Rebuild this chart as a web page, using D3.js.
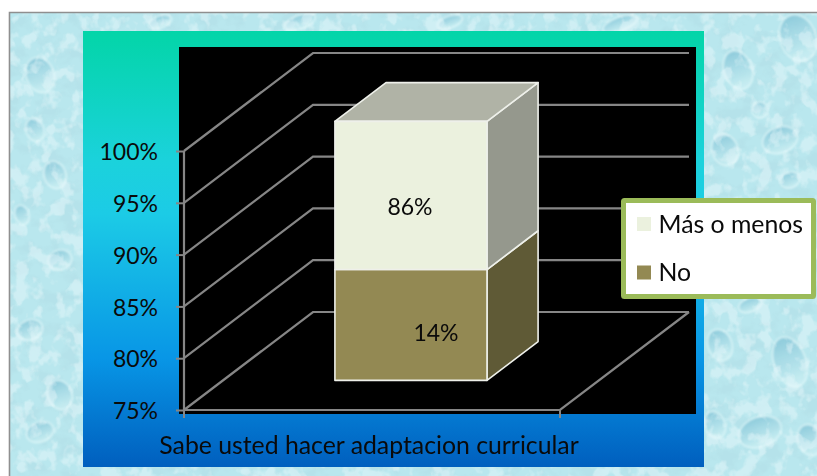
<!DOCTYPE html>
<html><head><meta charset="utf-8">
<script src="https://cdn.jsdelivr.net/npm/d3@7"></script>
<style>html,body{margin:0;padding:0;background:#fff}svg{display:block}text{font-family:Lato,"Open Sans",sans-serif;fill:#0a0a0a}</style>
</head><body><div id="c"></div>
<script>
const categories=["Sabe usted hacer adaptacion curricular"];
const tickValues=[75,80,85,90,95,100];
const seriesNames=["No","Más o menos"];
const lowerStack=[85.7];
const upperStack=[14.3];
const labelsLower=["14%"];
const labelsUpper=["86%"];
const seriesColors=["#938953","#ebf1de"];
const W=817,H=476;
const svg=d3.select("#c").append("svg").attr("width",W).attr("height",H);
const defs=svg.append("defs");

// ---- Textured page background
const mkTex=(id,freq,seed,matrix)=>{
  const f=defs.append("filter").attr("id",id).attr("x",0).attr("y",0).attr("width","100%").attr("height","100%");
  f.append("feTurbulence").attr("type","fractalNoise").attr("baseFrequency",freq).attr("numOctaves",3).attr("seed",seed).attr("result","n");
  f.append("feColorMatrix").attr("in","n").attr("type","matrix").attr("values",matrix);
};
mkTex("texDark","0.05 0.065",7,"0 0 0 0 0.45  0 0 0 0 0.74  0 0 0 0 0.80  5 0 0 0 -2.3");
mkTex("texLight","0.07 0.06",21,"0 0 0 0 0.90  0 0 0 0 0.98  0 0 0 0 0.99  0 6 0 0 -2.9");
defs.append("filter").attr("id","soft").append("feGaussianBlur").attr("stdDeviation",1.1);
const dropG=defs.append("linearGradient").attr("id","drop").attr("x1",0).attr("y1",0).attr("x2",0).attr("y2",1);
dropG.append("stop").attr("offset","0").attr("stop-color","#86c6d8").attr("stop-opacity",.85);
dropG.append("stop").attr("offset","0.65").attr("stop-color","#b4e2ea").attr("stop-opacity",.7);
dropG.append("stop").attr("offset","1").attr("stop-color","#d8f5f7").attr("stop-opacity",.6);
const bgDrops=[[40,75,14,18],[55,175,11,14],[35,130,9,12],[60,260,12,10],[30,330,13,10],[60,395,12,15],[40,432,14,10],[22,215,7,10],
[160,22,12,6],[300,22,16,7],[450,22,13,6],[620,24,18,7],[738,70,14,20],[798,38,18,24],[725,150,13,16],[780,140,18,13],[760,110,8,8],
[720,345,12,16],[790,362,16,26],[760,432,22,15],[715,425,10,14],[735,250,8,10],[790,180,10,8],[750,305,12,7],[810,440,12,16]];
svg.append("rect").attr("x",9).attr("y",12).attr("width",W-9).attr("height",H-12).attr("fill","#b9e7ee");
svg.append("rect").attr("x",9).attr("y",12).attr("width",W-9).attr("height",H-12).attr("filter","url(#texDark)").attr("opacity",.55);
svg.append("g").attr("filter","url(#soft)").selectAll("ellipse").data(bgDrops).join("ellipse")
  .attr("cx",d=>d[0]).attr("cy",d=>d[1]).attr("rx",d=>d[2]).attr("ry",d=>d[3])
  .attr("fill","url(#drop)").attr("stroke","#e2f9fa").attr("stroke-opacity",.8).attr("stroke-width",1.5)
  .attr("transform",d=>`rotate(-20 ${d[0]} ${d[1]})`);
svg.append("rect").attr("x",9).attr("y",12).attr("width",W-9).attr("height",H-12).attr("filter","url(#texLight)").attr("opacity",.38);
svg.append("path").attr("d",`M${W},12.5H9.5V${H}`).attr("fill","none").attr("stroke","#8f8f8f").attr("stroke-width",1.6);

// ---- Chart area with vertical gradient
const g=defs.append("linearGradient").attr("id","area").attr("x1",0).attr("y1",0).attr("x2",0).attr("y2",1);
[[0,"#03d5a8"],[.3,"#1bd2dc"],[.42,"#1ccbe6"],[.75,"#0896e6"],[1,"#005fbe"]].forEach(s=>g.append("stop").attr("offset",s[0]).attr("stop-color",s[1]));
svg.append("rect").attr("x",83).attr("y",31).attr("width",621).attr("height",436).attr("fill","url(#area)");
svg.append("rect").attr("x",179).attr("y",47).attr("width",517).attr("height",367).attr("fill","#000");

// ---- Scales and 3D projection
const y=d3.scaleLinear().domain([75,100]).range([410,151]);
const x=d3.scaleBand().domain(categories).range([184,560]).padding(.424);
const depthX=129,depthY=98;
const pr=(px,v,t)=>[px+depthX*t,y(v)-depthY*t];
const line=d3.line();
const grey="#868686";

// gridlines on the side wall and back wall
const grid=svg.append("g").attr("fill","none").attr("stroke",grey).attr("stroke-width",2.2);
grid.selectAll("path").data(tickValues).join("path")
  .attr("d",v=>line([pr(184,v,0),pr(184,v,1),pr(560,v,1)]));
grid.append("path").attr("d",line([pr(184,75,0),pr(560,75,0),pr(560,75,1)]));

// value axis
const axis=svg.append("g").attr("transform","translate(184,0)")
  .call(d3.axisLeft(y).tickValues(tickValues).tickFormat(d=>d+"%").tickSize(8).tickPadding(18));
axis.select(".domain").attr("stroke",grey).attr("stroke-width",2.2).attr("d",`M0,${y(100)}V${y(75)}`);
axis.selectAll(".tick line").attr("stroke",grey).attr("stroke-width",2);
axis.selectAll("text").attr("font-size",23).attr("dy","0.38em").attr("fill","#0a0a0a").attr("style","font-family:Lato,'Open Sans',sans-serif");
// category ticks
svg.append("g").attr("stroke",grey).attr("stroke-width",2).selectAll("line").data([184,560]).join("line")
  .attr("x1",d=>d).attr("x2",d=>d).attr("y1",y(75)).attr("y2",y(75)+8);

// ---- 3D stacked bar
const t0=.302,t1=.698;
const segs=categories.flatMap((c,i)=>[
  {c,from:75,to:lowerStack[i],fill:seriesColors[0],side:"#5f5a36"},
  {c,from:lowerStack[i],to:lowerStack[i]+upperStack[i],fill:seriesColors[1],side:"#95988d",top:"#b0b3a6"}
]);
const barG=svg.append("g").attr("stroke","#eef0ea").attr("stroke-width",1.6).attr("stroke-linejoin","round");
segs.forEach(s=>{
  const l=x(s.c),r=l+x.bandwidth();
  barG.append("path").attr("fill",s.side).attr("d",line([pr(r,s.from,t0),pr(r,s.from,t1),pr(r,s.to,t1),pr(r,s.to,t0)])+"Z");
  if(s.top) barG.append("path").attr("fill",s.top).attr("d",line([pr(l,s.to,t0),pr(l,s.to,t1),pr(r,s.to,t1),pr(r,s.to,t0)])+"Z");
  barG.append("path").attr("fill",s.fill).attr("d",line([pr(l,s.from,t0),pr(r,s.from,t0),pr(r,s.to,t0),pr(l,s.to,t0)])+"Z");
});
// data labels
svg.append("text").attr("x",410).attr("y",215).attr("text-anchor","middle").attr("font-size",23).text(labelsUpper[0]);
svg.append("text").attr("x",436).attr("y",341).attr("text-anchor","middle").attr("font-size",23).text(labelsLower[0]);

// category label
svg.append("text").attr("x",369).attr("y",453.5).attr("text-anchor","middle").attr("font-size",24.8).text(categories[0]);

// ---- Legend
svg.append("rect").attr("x",623.5).attr("y",200.5).attr("width",190).attr("height",96).attr("fill","#fff").attr("stroke","#9bbb59").attr("stroke-width",5).attr("rx",1);
const legend=[{n:seriesNames[1],c:seriesColors[1],sy:224,ty:233},{n:seriesNames[0],c:seriesColors[0],sy:272.5,ty:281}];
const lg=svg.append("g").selectAll("g").data(legend).join("g");
lg.append("rect").attr("x",637).attr("y",d=>d.sy-7).attr("width",14).attr("height",14).attr("fill",d=>d.c);
lg.append("text").attr("x",658.5).attr("y",d=>d.ty).attr("font-size",24.8).text(d=>d.n);
</script></body></html>
